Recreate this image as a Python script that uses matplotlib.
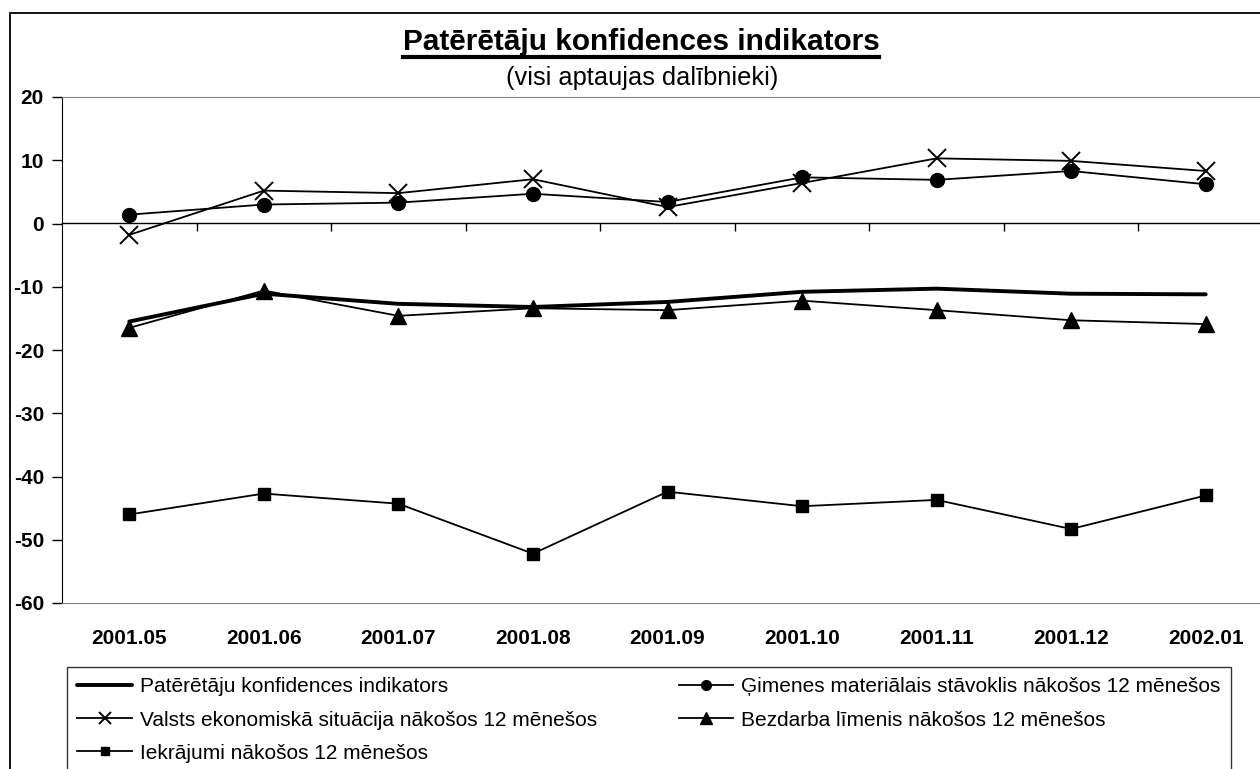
import matplotlib
matplotlib.use('Agg')
import matplotlib.pyplot as plt
from matplotlib.lines import Line2D
from matplotlib.patches import Rectangle
import numpy as np

plt.rcParams['font.family'] = ['Liberation Sans', 'DejaVu Sans']
plt.rcParams['axes.unicode_minus'] = False

months = ['2001.05', '2001.06', '2001.07', '2001.08', '2001.09',
          '2001.10', '2001.11', '2001.12', '2002.01']
indikators = [-15.5, -11.1, -12.7, -13.2, -12.4, -10.8, -10.3, -11.1, -11.2]
gimenes = [1.4, 3.0, 3.3, 4.7, 3.4, 7.3, 6.9, 8.3, 6.2]
valsts = [-1.8, 5.2, 4.8, 7.0, 2.6, 6.4, 10.3, 9.9, 8.3]
bezdarbs = [-16.5, -10.6, -14.6, -13.4, -13.7, -12.2, -13.7, -15.3, -15.9]
iekrajumi = [-46.0, -42.7, -44.3, -52.2, -42.4, -44.7, -43.7, -48.3, -43.0]

names = ['Patērētāju konfidences indikators',
         'Ģimenes materiālais stāvoklis nākošos 12 mēnešos',
         'Valsts ekonomiskā situācija nākošos 12 mēnešos',
         'Bezdarba līmenis nākošos 12 mēnešos',
         'Iekrājumi nākošos 12 mēnešos']

W, H = 1260, 769
fig = plt.figure(figsize=(W / 100, H / 100), dpi=100)
ax = fig.add_axes([62 / W, 1 - 603 / H, (1273 - 62) / W, (603 - 97) / H])

x = np.arange(len(months))
l1, = ax.plot(x, indikators, color='black', lw=2.8, solid_capstyle='round', zorder=3)
l2, = ax.plot(x, gimenes, color='black', lw=1.3, marker='o', ms=10, zorder=4)
l3, = ax.plot(x, valsts, color='black', lw=1.3, marker='x', ms=13, mew=1.4, zorder=5)
l4, = ax.plot(x, bezdarbs, color='black', lw=1.3, marker='^', ms=12, zorder=6)
l5, = ax.plot(x, iekrajumi, color='black', lw=1.3, marker='s', ms=8.5, zorder=7)

ymin, ymax = -60, 20
ax.set_xlim(-0.5, len(months) - 0.5)
ax.set_ylim(ymin, ymax)
ax.set_yticks(np.arange(ymin, ymax + 1, 10))
ax.set_xticks(x)
ax.set_xticklabels(months, fontsize=15, fontweight='bold')
ax.tick_params(axis='x', length=0, pad=19)
ax.tick_params(axis='y', direction='out', length=7, width=1, pad=6, labelsize=15)
for lab in ax.get_yticklabels():
    lab.set_fontweight('bold')
ax.spines['top'].set_color('#808080')
ax.spines['bottom'].set_color('#808080')
ax.spines['right'].set_visible(False)
ax.spines['left'].set_color('black')

# category axis crossing at zero
sec = ax.secondary_xaxis((0 - ymin) / (ymax - ymin))
sec.set_xticks(np.arange(len(months) - 1) + 0.5)
sec.tick_params(direction='in', length=6, width=1, labeltop=False, labelbottom=False)
for s in sec.spines.values():
    s.set_color('black')
    s.set_linewidth(1)

leg = fig.legend([l1, l3, l5, l2, l4], [names[0], names[2], names[4], names[1], names[3]],
                 loc='upper left', bbox_to_anchor=(67 / W, 1 - 667 / H, (1231 - 67) / W, 0),
                 mode='expand', ncol=2, fontsize=15, frameon=True, fancybox=False,
                 edgecolor='black', handlelength=2.6, handletextpad=0.4, labelspacing=0.68,
                 borderpad=0.5, markerscale=0.7, borderaxespad=0)
leg.get_frame().set_linewidth(1)

title = fig.text(641 / W, 1 - 50 / H, 'Patērētāju konfidences indikators',
                 ha='center', va='baseline', fontsize=21.4, fontweight='bold')
fig.text(642 / W, 1 - 85 / H, '(visi aptaujas dalībnieki)',
         ha='center', va='baseline', fontsize=18.3)

fig.add_artist(Rectangle((10 / W, -0.1), 1.2, 1 - 13 / H + 0.1, transform=fig.transFigure,
                         fill=False, edgecolor='black', lw=1.3))

fig.canvas.draw()
bb = title.get_window_extent()
fig.add_artist(Line2D([bb.x0 / W, bb.x1 / W], [1 - 57 / H] * 2, transform=fig.transFigure,
                      color='black', lw=3))

fig.savefig('out.png', dpi=100)
